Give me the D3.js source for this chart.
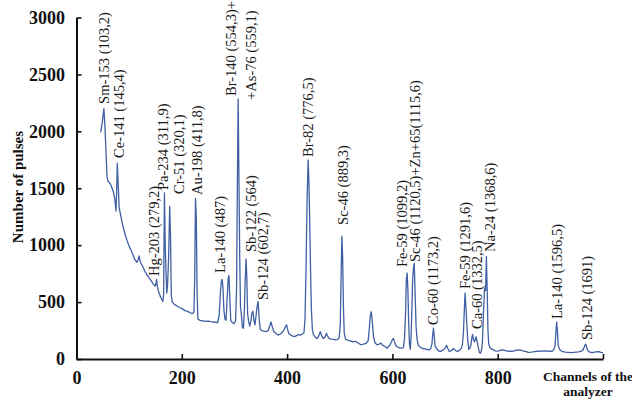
<!DOCTYPE html>
<html><head><meta charset="utf-8">
<script src="https://cdn.jsdelivr.net/npm/d3@7/dist/d3.min.js"></script>
<style>
html,body{margin:0;padding:0;background:#fff;}
svg{display:block;}
</style></head>
<body><svg id="c" width="632" height="403"></svg>
<script>
// ---- data ----
const channels = [46,49,52,54,56,58,60,63,66,70,73,75,76,77.5,79,81,84,88,92,96,100,105,110,115,117,119,121,123,126,130,135,140,145,149,151,152,153.5,156,160,164,165.5,167,168.5,170,171.5,173,175,177,178.5,180,182,186,191,196,201,206,211,216,220,223,224.5,226,227.5,229,230.5,235,240,245,250,255,260,265,268,271,273,275,276.5,278,280,282,284,286,288,289.5,291,293,296,299,302,304,305.5,307,308.5,310,311.5,313,315,317,319,320.5,322,323.5,325,327,329,331,333,335,337,339,341,343,345,347,349,352,356,360,364,367,369.5,372,375,379,383,387,391,394,397,399,401,403,407,411,414,418,422,425,429,432,434,436,438,440,441.5,443,444.5,446,448,450,454,457,460,463,466,469,472,475,477,480,484,488,492,496,499,501,502.5,504,505.5,507,508.5,511,515,520,525,530,535,540,545,550,554,556,558,560,562,564,567,571,575,578,582,586,590,594,597,600,602,604,607,610,614,618,621,623,625,626.5,628,629.5,631,632.5,634,635.5,637,638.5,640,641.5,643,645,647,649,652,656,660,665,670,673,675,676.5,678,679.5,681,684,688,692,697,700,703,705,708,712,716,720,724,728,731,733,735,736.5,738,739.5,741,743,745,747,749,751,752.5,754,756,757.5,759,761,763,765,767,769,771,773,775,777,778.5,780,781.5,783,786,790,796,802,808,812,818,824,830,836,842,848,854,858,864,870,876,882,888,894,900,904,907,909,910.5,912,913.5,915,918,922,928,935,942,948,954,959,962,964,966,967.5,969,971,975,980,986,992,996,1000];
const counts = [1990,2080,2200,2050,1820,1600,1560,1550,1520,1470,1400,1300,1420,1720,1560,1330,1260,1170,1100,1040,990,940,880,850,870,905,860,835,810,770,730,700,665,640,660,700,640,590,540,505,560,1460,1000,760,580,650,900,1340,1100,560,500,480,465,450,440,425,418,405,400,410,700,1410,1250,600,350,340,335,330,332,328,325,322,318,380,560,680,700,640,430,350,340,520,700,735,560,340,320,310,330,600,1500,2285,1600,900,450,400,280,270,450,700,880,720,400,330,290,330,400,420,340,300,380,460,505,350,260,250,245,240,250,290,325,280,240,225,210,220,235,255,285,300,260,225,210,200,196,205,215,210,220,230,350,800,1400,1750,1550,1200,800,450,260,215,190,180,200,240,200,180,195,225,200,180,175,172,168,170,190,300,700,1080,900,450,230,175,165,160,150,155,140,125,130,138,160,260,380,415,320,200,140,125,130,140,120,110,95,115,140,170,180,150,115,105,98,95,100,180,400,700,755,600,300,130,85,200,440,700,800,840,600,280,170,125,105,95,90,85,80,95,130,210,270,200,115,90,70,68,80,95,120,95,65,75,92,75,65,80,95,130,240,420,580,470,340,170,85,95,120,190,215,170,150,175,195,150,105,60,50,70,150,400,620,600,900,620,250,130,95,85,70,72,80,78,70,68,70,78,80,72,65,58,60,65,68,70,72,70,68,70,90,120,230,325,240,120,80,68,60,58,56,60,62,70,80,100,125,130,100,75,60,55,62,65,58,55];

// peak annotations: text, channel of label centre, count at label foot
const labelTexts = ["Sm-153 (103,2)","Ce-141 (145,4)","Hg-203 (279,2)","Pa-234 (311,9)","Cr-51 (320,1)","Au-198 (411,8)","La-140 (487)","Br-140 (554,3)+","+As-76 (559,1)","Sb-122 (564)","Sb-124 (602,7)","Br-82 (776,5)","Sc-46 (889,3)","Fe-59 (1099,2)","Sc-46 (1120,5)+Zn+65(1115,6)","Co-60 (1173,2)","Fe-59 (1291,6)","Ca-60 (1332,5)","Na-24 (1368,6)","La-140 (1596,5)","Sb-124 (1691)"];
const labelChannels = [53,81,147,164,195,228,273,293,332,332,354,440,506,618,643,678,738,760,785,912,969];
const labelCounts = [2241,1766,729,1485,1450,1441,756,2311,2276,940,518,1775,1178,808,852,299,615,264,940,351,167];

const xTicks = [0,200,400,600,800,1000];
const xTickLabels = ["0","200","400","600","800",""];
const yTicks = [0,500,1000,1500,2000,2500,3000];
const yTitle = "Number of pulses";
const xTitleLines = ["Channels of the","analyzer"];

// ---- drawing ----
const svg = d3.select("#c");
const serif = "'Liberation Serif','Times New Roman',serif";
const x = d3.scaleLinear().domain([0,1000]).range([76.5,603]);
const y = d3.scaleLinear().domain([0,3000]).range([359,17.5]);

const line = d3.line().x(d=>x(d[0])).y(d=>y(d[1]));
const pts = channels.map((c,i)=>[c,counts[i]]);
svg.append("path").attr("d",line(pts)).attr("fill","none")
  .attr("stroke","#4060a3").attr("stroke-width",1.3).attr("stroke-linejoin","round");

// axes
const yAxis = d3.axisLeft(y).tickValues(yTicks).tickSize(-5).tickSizeOuter(0).tickPadding(11.5).tickFormat(d3.format("d"));
const gy = svg.append("g").attr("transform",`translate(${x(0)},0)`).call(yAxis);
const xAxis = d3.axisBottom(x).tickValues(xTicks).tickSize(-5).tickSizeOuter(0).tickPadding(12)
  .tickFormat((d,i)=>xTickLabels[i]);
const gx = svg.append("g").attr("transform",`translate(0,${y(0)})`).call(xAxis);
[gx,gy].forEach(g=>{
  g.select(".domain").attr("stroke","#111").attr("stroke-width",2);
  g.selectAll(".tick line").attr("stroke","#111").attr("stroke-width",1.6);
  g.selectAll(".tick text").attr("font-family",serif).attr("font-weight","bold")
   .attr("font-size",18).attr("fill","#111");
});

// axis titles
svg.append("text").attr("transform",`translate(18,187) rotate(-90)`)
  .attr("text-anchor","middle").attr("dominant-baseline","central")
  .attr("font-family",serif).attr("font-weight","bold").attr("font-size",15).attr("fill","#111")
  .text(yTitle);
svg.append("text").attr("x",588).attr("y",381).attr("text-anchor","middle")
  .attr("font-family",serif).attr("font-weight","bold").attr("font-size",13.5).attr("fill","#111")
  .text(xTitleLines[0]);
svg.append("text").attr("x",588).attr("y",396).attr("text-anchor","middle")
  .attr("font-family",serif).attr("font-weight","bold").attr("font-size",13.5).attr("fill","#111")
  .text(xTitleLines[1]);

// peak labels
svg.append("g").selectAll("text").data(labelTexts).join("text")
  .attr("transform",(d,i)=>`translate(${x(labelChannels[i])},${y(labelCounts[i])}) rotate(-90)`)
  .attr("text-anchor","start").attr("dominant-baseline","central")
  .attr("font-family",serif).attr("font-size",14.5).attr("fill","#1a1a1a")
  .text(d=>d);
</script></body></html>
